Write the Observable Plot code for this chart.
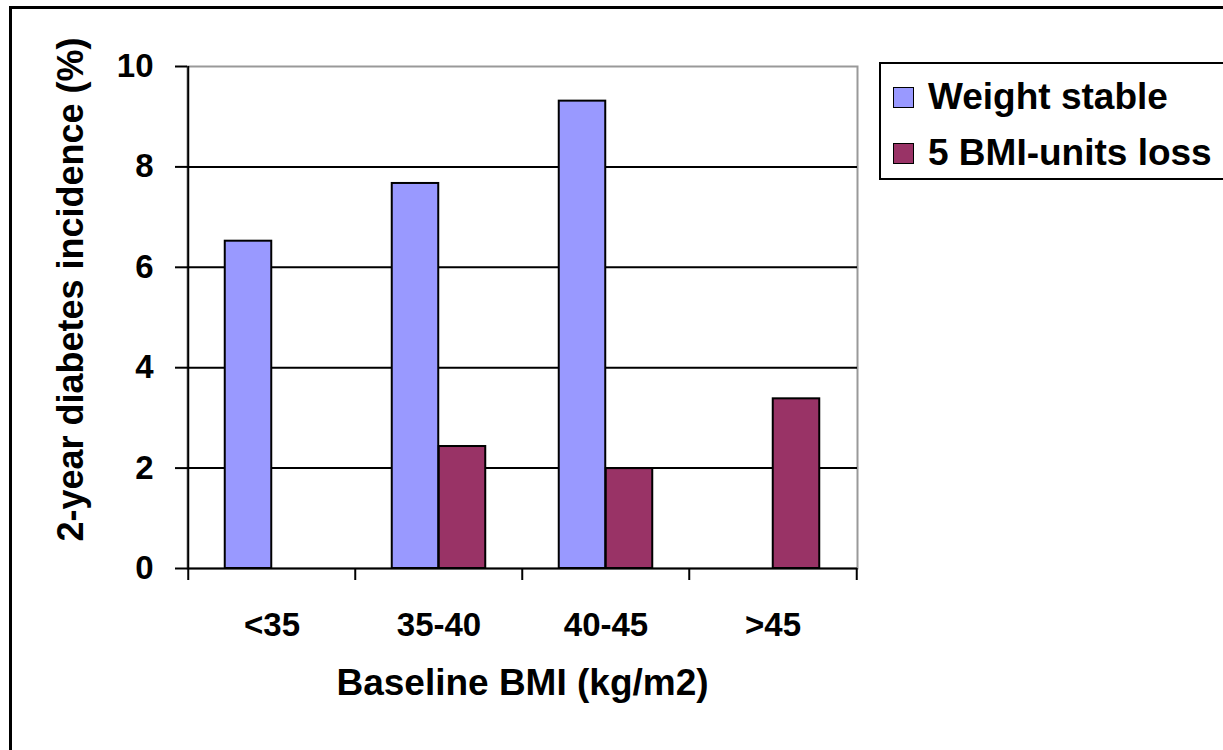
<!DOCTYPE html>
<html>
<head>
<meta charset="utf-8">
<script src="https://cdn.jsdelivr.net/npm/d3@7"></script>
<script src="https://cdn.jsdelivr.net/npm/@observablehq/plot@0.6"></script>
<style>
  html, body { margin: 0; padding: 0; background: #fff; overflow: hidden; width: 1223px; height: 750px; }
  body { position: relative; font-family: "Liberation Sans", Arial, sans-serif; }
  #chart { position: absolute; left: 0; top: 0; }
  #outer { position: absolute; left: 9px; top: 6px; width: 1400px; height: 900px; border: 3px solid #000; pointer-events: none; }
  #legend { position: absolute; left: 879px; top: 62px; width: 420px; height: 114px; border: 2px solid #000; background: #fff; }
  .row { position: absolute; left: 0; font-size: 37px; line-height: 37px; font-weight: bold; white-space: nowrap; color: #000; }
  .sw { position: absolute; width: 19px; height: 19px; border: 1.5px solid #000; }
  .lbl { position: absolute; left: 47px; }
</style>
</head>
<body>
<div id="chart"></div>
<div id="outer"></div>
<div id="legend"></div>
<script>
// ---- data ----
const categories = ["<35", "35-40", "40-45", ">45"];
const series = ["Weight stable", "5 BMI-units loss"];
const weightStable = [6.52, 7.67, 9.31, null];
const bmiLoss = [null, 2.43, 1.99, 3.38];
const seriesColors = ["#9999FF", "#993366"];
const yTicks = [0, 2, 4, 6, 8, 10];
const xTitle = "Baseline BMI (kg/m2)";
const yTitle = "2-year diabetes incidence (%)";

const rows = [];
categories.forEach((c, i) => {
  if (weightStable[i] != null) rows.push({cat: c, series: series[0], value: weightStable[i]});
  if (bmiLoss[i] != null) rows.push({cat: c, series: series[1], value: bmiLoss[i]});
});

// ---- layout ----
const W = 1223, H = 750;
const mL = 187, mR = 366, mT = 66, mB = 182;
const step = (W - mL - mR) / categories.length;
const barW = 47;
const pad = (step - 2 * barW) / 2;
const font = "'Liberation Sans', Arial, sans-serif";

const chart = Plot.plot({
  width: W, height: H,
  marginLeft: mL, marginRight: mR, marginTop: mT, marginBottom: mB,
  style: {fontFamily: font, color: "#000", background: "transparent", overflow: "visible"},
  x: {domain: categories, padding: 0, label: null},
  y: {domain: [0, 10], label: null},
  color: {domain: series, range: seriesColors},
  marks: [
    Plot.frame({stroke: "#999", strokeWidth: 2}),
    Plot.ruleY(yTicks.filter(t => t > 0 && t < 10), {stroke: "#000", strokeWidth: 2}),
    Plot.barY(rows.filter(d => d.series === series[0]), {
      x: "cat", y: "value", fill: "series", stroke: "#000", strokeWidth: 2,
      insetLeft: pad, insetRight: pad + barW
    }),
    Plot.barY(rows.filter(d => d.series === series[1]), {
      x: "cat", y: "value", fill: "series", stroke: "#000", strokeWidth: 2,
      insetLeft: pad + barW, insetRight: pad
    }),
    Plot.ruleY([0], {stroke: "#000", strokeWidth: 2}),
    Plot.ruleX([categories[0]], {dx: -step / 2, stroke: "#000", strokeWidth: 2}),
    Plot.axisY(yTicks, {label: null, tickSize: 12, tickPadding: 22, tickFormat: d3.format("d"), fontSize: 33, fontWeight: "bold", stroke: "#000", strokeWidth: 2}),
    Plot.axisX(categories, {label: null, tickSize: 12, tickFormat: () => "", dx: -step / 2, stroke: "#000", strokeWidth: 2}),
    Plot.axisX([categories[categories.length - 1]], {label: null, tickSize: 12, tickFormat: () => "", dx: step / 2, stroke: "#000", strokeWidth: 2}),
    Plot.axisX(categories, {label: null, tickSize: 0, tickPadding: 44, fontSize: 33, fontWeight: "bold"}),
    Plot.text([xTitle], {frameAnchor: "bottom", text: d => d, textAnchor: "middle", dy: 126, fontSize: 37, fontWeight: "bold", fill: "#000"}),
    Plot.text([yTitle], {frameAnchor: "left", text: d => d, textAnchor: "middle", rotate: -90, dx: -116, dy: -28, fontSize: 36, fontWeight: "bold", fill: "#000"})
  ]
});
document.getElementById("chart").appendChild(chart);

// ---- legend ----
const legend = document.getElementById("legend");
const rowTops = [14, 70];
series.forEach((s, i) => {
  const row = document.createElement("div");
  row.className = "row";
  row.style.top = rowTops[i] + "px";
  const sw = document.createElement("div");
  sw.className = "sw";
  sw.style.background = seriesColors[i];
  sw.style.left = "12px";
  sw.style.top = "9px";
  const lbl = document.createElement("span");
  lbl.className = "lbl";
  lbl.textContent = s;
  row.appendChild(sw);
  row.appendChild(lbl);
  legend.appendChild(row);
});
</script>
</body>
</html>
